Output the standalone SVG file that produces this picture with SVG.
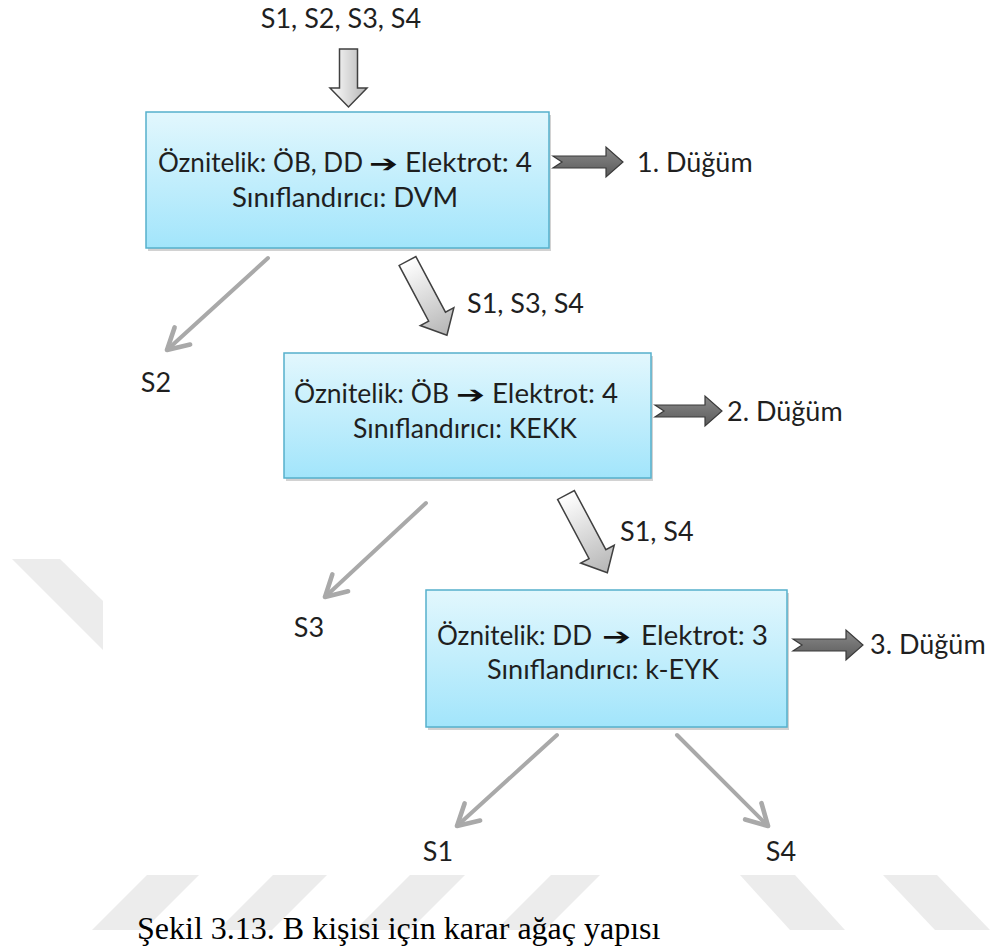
<svg xmlns="http://www.w3.org/2000/svg" width="992" height="947" viewBox="0 0 992 947">
<defs>
<linearGradient id="boxg" x1="0" y1="0" x2="0" y2="1">
<stop offset="0" stop-color="#e2f7fd"/>
<stop offset="1" stop-color="#a2e5fb"/>
</linearGradient>
<linearGradient id="blockg" x1="0" y1="0" x2="1" y2="0">
<stop offset="0" stop-color="#ffffff"/>
<stop offset="1" stop-color="#b5b5b5"/>
</linearGradient>
<linearGradient id="darkg" x1="0" y1="0" x2="0" y2="1">
<stop offset="0" stop-color="#8a8a8a"/>
<stop offset="1" stop-color="#5a5a5a"/>
</linearGradient>
<marker id="vhead" markerUnits="userSpaceOnUse" markerWidth="30" markerHeight="30" viewBox="-22 -13 26 26" refX="0" refY="0" orient="auto">
<path d="M-18,-10 L0,0 L-18,10" fill="none" stroke="#a9a9a9" stroke-width="4" stroke-linecap="round" stroke-linejoin="round"/>
</marker>
</defs>
<style>
.t{font-family:Lato,"Open Sans","Liberation Sans",sans-serif;font-size:27px;fill:#1f1f1f}
.c{text-anchor:middle}
.ar{font-family:"DejaVu Sans",sans-serif;font-size:24px;fill:#111}
.box{fill:url(#boxg);stroke:#55b0cc;stroke-width:1.5}
.sh{fill:#d2d2d2}
.blk{fill:url(#blockg);stroke:#404040;stroke-width:1.5;stroke-linejoin:miter}
.dk{fill:url(#darkg);stroke:#3a3a3a;stroke-width:1.2}
.gl{fill:none;stroke:#a9a9a9;stroke-width:4;stroke-linecap:round;marker-end:url(#vhead)}
.wm{fill:#ececec}
.cap{font-family:"Liberation Serif","Times New Roman",serif;font-size:32px;fill:#000}
</style>
<rect width="992" height="947" fill="#ffffff"/>
<g id="watermark">
<polygon class="wm" points="12,559 60,559 103,601 103,650"/>
<polygon class="wm" points="147,875 199,875 144,930 92,930"/>
<polygon class="wm" points="273,875 327,875 272,930 218,930"/>
<polygon class="wm" points="410,875 465,875 410,930 355,930"/>
<polygon class="wm" points="551,875 600,875 545,930 496,930"/>
<polygon class="wm" points="740,875 795,875 845,930 790,930"/>
<polygon class="wm" points="883,875 937,875 990,930 935,930"/>
</g>
<g id="connectors">
<path class="blk" d="M339.5,49 L357.5,49 L357.5,88 L367,88 L348.5,107 L330,88 L339.5,88 Z"/>
<path class="blk" transform="translate(407.5,261) rotate(62)" d="M0,-9.5 L63,-9.5 L63,-19 L84,0 L63,19 L63,9.5 L0,9.5 Z"/>
<path class="blk" transform="translate(566,495) rotate(62)" d="M0,-9.5 L67,-9.5 L67,-19 L88,0 L67,19 L67,9.5 L0,9.5 Z"/>
<path class="dk" d="M553,156 L606,156 L606,147 L623,162 L606,177 L606,168 L553,168 L562,162 Z"/>
<path class="dk" d="M655,405 L705,405 L705,396 L722,411 L705,426 L705,417 L655,417 L664,411 Z"/>
<path class="dk" d="M793,639 L846,639 L846,630 L863,645 L846,660 L846,651 L793,651 L802,645 Z"/>
<line class="gl" x1="268" y1="258" x2="167" y2="350"/>
<line class="gl" x1="426" y1="503" x2="325" y2="597"/>
<line class="gl" x1="557" y1="735" x2="457" y2="826"/>
<line class="gl" x1="677" y1="735" x2="768" y2="826"/>
</g>
<g id="input-label">
<text class="t c" x="341" y="28">S1, S2, S3, S4</text>
</g>
<g id="node1">
<rect class="sh" x="148" y="115" width="403" height="136"/>
<rect class="box" x="146" y="112" width="403" height="136"/>
<text class="t" y="172"><tspan x="158" textLength="205" lengthAdjust="spacingAndGlyphs">Öznitelik: ÖB, DD</tspan><tspan class="ar" x="369" textLength="29" lengthAdjust="spacingAndGlyphs">➔</tspan><tspan x="405" textLength="127" lengthAdjust="spacingAndGlyphs">Elektrot: 4</tspan></text>
<text class="t c" x="345" y="207" textLength="226" lengthAdjust="spacingAndGlyphs">Sınıflandırıcı: DVM</text>
</g>
<g id="label-node1">
<text class="t" x="637" y="172">1. Düğüm</text>
</g>
<g id="label-s134">
<text class="t" x="467" y="313">S1, S3, S4</text>
</g>
<g id="leaf-s2">
<text class="t c" x="156" y="392">S2</text>
</g>
<g id="node2">
<rect class="sh" x="286" y="356" width="367" height="125"/>
<rect class="box" x="284" y="353" width="367" height="125"/>
<text class="t" y="403"><tspan x="294" textLength="155" lengthAdjust="spacingAndGlyphs">Öznitelik: ÖB</tspan><tspan class="ar" x="456" textLength="29" lengthAdjust="spacingAndGlyphs">➔</tspan><tspan x="492" textLength="126" lengthAdjust="spacingAndGlyphs">Elektrot: 4</tspan></text>
<text class="t c" x="465" y="438" textLength="224" lengthAdjust="spacingAndGlyphs">Sınıflandırıcı: KEKK</text>
</g>
<g id="label-node2">
<text class="t" x="727" y="421">2. Düğüm</text>
</g>
<g id="label-s14">
<text class="t" x="620" y="541">S1, S4</text>
</g>
<g id="leaf-s3">
<text class="t c" x="309" y="637">S3</text>
</g>
<g id="node3">
<rect class="sh" x="428" y="593" width="361" height="137"/>
<rect class="box" x="426" y="590" width="361" height="137"/>
<text class="t" y="645"><tspan x="437" textLength="155" lengthAdjust="spacingAndGlyphs">Öznitelik: DD</tspan><tspan class="ar" x="602" textLength="29" lengthAdjust="spacingAndGlyphs">➔</tspan><tspan x="641" textLength="127" lengthAdjust="spacingAndGlyphs">Elektrot: 3</tspan></text>
<text class="t c" x="603" y="679" textLength="232" lengthAdjust="spacingAndGlyphs">Sınıflandırıcı: k-EYK</text>
</g>
<g id="label-node3">
<text class="t" x="870" y="654">3. Düğüm</text>
</g>
<g id="leaf-s1">
<text class="t c" x="438" y="861">S1</text>
</g>
<g id="leaf-s4">
<text class="t c" x="781" y="861">S4</text>
</g>
<g id="caption">
<text class="cap" x="137" y="939">Şekil 3.13. B kişisi için karar ağaç yapısı</text>
</g>
</svg>
